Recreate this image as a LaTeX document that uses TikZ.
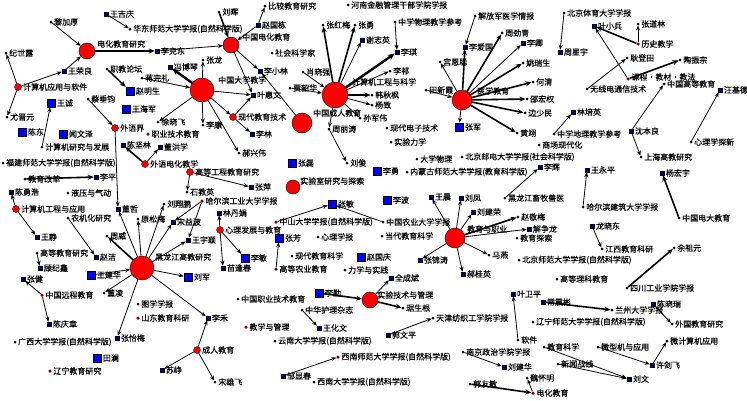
\documentclass[tikz,border=0pt]{standalone}
\usepackage{fontspec}
\setmainfont{Noto Sans CJK SC}[FakeBold=0.3]
\usetikzlibrary{arrows.meta}
\definecolor{navy}{RGB}{0,0,128}
\definecolor{dred}{RGB}{128,0,0}
\pgfdeclarelayer{bg}
\pgfdeclarelayer{paper}
\pgfsetlayers{paper,bg,main}
\tikzset{
 base/.style={inner sep=0pt, outer sep=0pt},
 hub/.style={base, circle, draw=black, line width=0.4pt, fill=red},
 rc/.style={base, circle, draw=black, line width=0.3pt, fill=red, minimum size=7pt},
 dr/.style={base, circle, fill=dred, minimum size=3.5pt},
 dot/.style={base, circle, fill=black, minimum size=3pt},
 sq/.style={base, rectangle, draw=black, line width=0.3pt, fill=navy, minimum size=4.5pt},
 bsq/.style={base, rectangle, draw=black, line width=0.5pt, fill=blue, minimum size=8.5pt},
 lbl/.style={inner sep=0pt, font=\fontsize{8}{9}\selectfont},
 e/.style={draw=black, line width=0.8pt, -{Stealth[length=5pt,width=4pt]}},
 et/.style={e, line width=1.6pt, -{Stealth[length=6pt,width=5pt]}},
 ev/.style={e, line width=2.4pt, -{Stealth[length=7pt,width=6pt]}},
}
\newcommand\mynd[5]{\node[#2,label={[lbl,label distance=1.5pt]0:#5}] (#1) at (#3,#4) {};}
\newcommand\myhub[7]{\node[hub,minimum size=#4pt] (#1) at (#2,#3) {}; \node[lbl,anchor=west] (#1t) at (#5,#6) {#7};}
\begin{document}
\begin{tikzpicture}[x=1pt,y=-1pt]
\begin{pgfonlayer}{paper}
\fill[white] (0,0) rectangle (747,400);
\end{pgfonlayer}
\useasboundingbox (0,0) rectangle (747,400);
% hubs
\myhub{dhjy}{87}{51}{16}{97}{44}{电化教育研究}
\myhub{zgdh}{231}{45}{16}{242}{37}{中国电化教育}
\myhub{zgdx}{202}{90}{24}{218}{80}{中国大学教学}
\myhub{jsjgc}{335}{95}{26}{352}{82}{计算机工程与科学}
\myhub{zgcr}{302}{123}{20}{313}{113}{中国成人教育}
\myhub{yxjy}{462}{100}{20}{477}{91}{医学教育}
\myhub{jyzy}{455}{238}{20}{467}{229}{教育与职业}
\myhub{hlj}{142}{268}{24}{155}{257}{黑龙江高教研究}
\myhub{syjs}{370}{300}{16}{377}{295}{实验技术与管理}
\myhub{sys}{293}{187}{14}{300}{181}{实验室研究与探索}
% top-left
\mynd{wjq}{sq}{106}{14}{王吉庆}
\mynd{hdsf}{dot}{130}{29}{华东师范大学学报(自然科学版)}
\mynd{ljh}{dot}{51}{22}{黎加厚}
\mynd{lkd}{sq}{157}{51}{李克东}
\mynd{jsl}{dot}{6}{53}{纪世露}
\mynd{jsjyy}{rc}{18}{87}{计算机应用与软件}
\mynd{wrl}{sq}{64}{71}{王荣良}
\mynd{yjy}{dot}{7}{117}{尤晋元}
\mynd{zjlt}{dot}{107}{69}{职教论坛}
\mynd{zms}{bsq}{130}{91}{赵明生}
\mynd{jwl}{dot}{142}{78}{蒋完礼}
\mynd{fbq}{sq}{170}{67}{冯博琴}
\mynd{wc}{bsq}{51}{103}{王诚}
\mynd{whj}{bsq}{126}{109}{王海军}
\mynd{ccj}{dot}{88}{99}{蔡垂钧}
\mynd{wyj}{rc}{115}{128}{外语界}
\mynd{xxf}{dot}{158}{122}{徐晓飞}
\mynd{zyjsjy}{dr}{148}{134}{职业技术教育}
\mynd{cd}{bsq}{22}{132}{陈东}
\mynd{wwz}{bsq}{63}{134}{闻文泽}
% top-middle
\mynd{lh}{dot}{219}{12}{刘晖}
\mynd{bjjy}{dot}{265}{6}{比较教育研究}
\mynd{zgd}{sq}{258}{25}{赵国栋}
\mynd{shkxj}{dot}{272}{53}{社会科学家}
\mynd{lxl}{sq}{260}{71}{李小林}
\mynd{zl}{dot}{203}{60}{张龙}
\mynd{yhw}{sq}{253}{95}{叶惠文}
\mynd{xdjyjs}{rc}{233}{117}{现代教育技术}
\mynd{lk}{dot}{203}{125}{李康}
\mynd{ll}{sq}{252}{134}{李林}
\mynd{hxw}{dot}{239}{153}{郝兴伟}
\mynd{xxq}{dot}{303}{72}{肖晓强}
\mynd{jsh}{dot}{290}{88}{贾韶华}
\mynd{zhm}{dot}{323}{25}{张红梅}
\mynd{zy}{dot}{355}{25}{张勇}
\mynd{xzy}{sq}{362}{40}{谢志英}
\mynd{lq}{sq}{397}{52}{李琪}
\mynd{zxwl}{dot}{395}{22}{中学物理教学参考}
\mynd{hnjr}{dot}{348}{5}{河南金融管理干部学院学报}
\mynd{lqi}{dot}{390}{71}{李祁}
\mynd{hqf}{dot}{372}{95}{韩秋枫}
\mynd{yz}{dot}{372}{105}{杨致}
\mynd{sjw}{dot}{360}{118}{孙军伟}
\mynd{zlt}{dot}{329}{129}{周丽涛}
\mynd{lj}{dot}{347}{163}{刘俊}
\mynd{xddz}{dot}{387}{128}{现代电子技术}
% top-right
\mynd{jfj}{dot}{475}{16}{解放军医学情报}
\mynd{lag}{sq}{465}{47}{李爱国}
\mynd{zjq}{dot}{502}{33}{周劲青}
\mynd{lqing}{sq}{523}{43}{李卿}
\mynd{gec}{dot}{440}{62}{宫恩聪}
\mynd{yrs}{dot}{523}{63}{姚瑞生}
\mynd{hq}{dot}{533}{82}{何清}
\mynd{txx}{dot}{426}{90}{田新霞}
\mynd{shq}{dot}{527}{99}{邵宏权}
\mynd{bsm}{dot}{525}{113}{边少民}
\mynd{zj}{bsq}{459}{127}{张军}
\mynd{hy}{dot}{517}{133}{黄翊}
\mynd{bjty}{dot}{564}{13}{北京体育大学学报}
\mynd{zxy}{sq}{560}{52}{周星宇}
\mynd{yxb}{sq}{594}{26}{叶小兵}
\mynd{zdl}{dot}{638}{24}{张道林}
\mynd{lsjx}{dr}{638}{44}{历史教学}
\mynd{gdt}{dot}{627}{58}{耿登田}
\mynd{tzz}{dot}{680}{60}{陶振宗}
\node[dr,label={[lbl,label distance=1.5pt,yshift=2pt]0:课程·教材·教法}] (kcjc) at (628,79) {};
\mynd{wxd}{dot}{587}{89}{无线电通信技术}
\mynd{zggd}{dot}{664}{84}{中国高等教育}
\mynd{wjd}{sq}{720}{90}{汪基德}
\mynd{lpy}{sq}{573}{112}{林培英}
\mynd{zxdl}{dot}{554}{134}{中学地理教学参考}
\mynd{sbl}{sq}{631}{131}{沈本良}
\mynd{shgj}{dot}{641}{157}{上海高教研究}
\mynd{xlxtx}{dot}{691}{142}{心理学探新}
\mynd{yhy}{sq}{662}{173}{杨宏宇}
\mynd{zgdd}{dot}{679}{218}{中国电大教育}
\mynd{wyp}{sq}{587}{170}{王永平}
\mynd{hebjz}{dot}{583}{207}{哈尔滨建筑大学学报}
\mynd{lxd}{sq}{592}{226}{龙晓东}
\mynd{jxjy}{dot}{602}{249}{江西教育科研}
\mynd{yzy}{dot}{674}{248}{余祖元}
\mynd{scgy}{dot}{627}{288}{四川工业学院学报}
\mynd{scxd}{dot}{539}{145}{商场现代化}
% middle
\mynd{sylx}{dot}{391}{142}{实验力学}
\mynd{dxwl}{dot}{417}{159}{大学物理}
\mynd{bjyd}{dot}{462}{157}{北京邮电大学学报(社会科学版)}
\mynd{ly}{bsq}{377}{171}{李勇}
\mynd{nmg}{dot}{407}{172}{内蒙古师范大学学报(教育科学版)}
\mynd{lhui}{sq}{540}{167}{李辉}
\mynd{hljxm}{dot}{505}{198}{黑龙江畜牧兽医}
\mynd{lb}{bsq}{387}{200}{李波}
\mynd{wc2}{sq}{431}{197}{王晨}
\mynd{lf}{sq}{461}{198}{刘凤}
\mynd{ljr}{sq}{473}{212}{刘建荣}
\mynd{zjm}{dot}{518}{217}{赵敬梅}
\mynd{xzl}{sq}{529}{229}{解争龙}
\mynd{jyts}{dot}{517}{238}{教育探索}
\mynd{my}{dot}{489}{255}{马燕}
\mynd{zjt}{sq}{420}{260}{张锦涛}
\mynd{bjsf}{dot}{519}{260}{北京师范大学学报(自然科学版)}
\mynd{hgy}{sq}{463}{274}{郝桂英}
\mynd{zgny}{dot}{383}{222}{中国农业大学学报}
\mynd{ddjy}{dot}{382}{236}{当代教育科学}
\mynd{zgq}{bsq}{361}{257}{赵国庆}
\mynd{gdgc}{rc}{190}{172}{高等工程教育研究}
\mynd{zp}{sq}{251}{187}{张萍}
\mynd{zl2}{bsq}{292}{163}{张磊}
\mynd{sjy}{dot}{187}{192}{石教英}
\mynd{hgd}{dr}{202}{201}{哈尔滨工业大学学报}
\mynd{ldj}{sq}{219}{213}{林丹娟}
\mynd{xlfz}{rc}{220}{230}{心理发展与教育}
\mynd{lm}{bsq}{245}{258}{李敏}
\mynd{zf}{bsq}{279}{238}{张芳}
\mynd{xlxb}{dot}{318}{237}{心理学报}
\mynd{xdjykx}{dot}{292}{256}{现代教育科学}
\mynd{wyy}{sq}{188}{240}{王宇颖}
\mynd{zsdx}{dr}{276}{222}{中山大学学报(自然科学版)}
\mynd{zm}{bsq}{332}{204}{张敏}
% left
\mynd{cjl}{sq}{123}{145}{陈坚林}
\mynd{dhx}{sq}{160}{147}{董洪学}
\mynd{wydh}{rc}{145}{164}{外语电化教学}
\mynd{jsjyf}{dot}{42}{147}{计算机研究与发展}
\mynd{fjsf}{dot}{3}{163}{福建师范大学学报(自然科学版)}
\mynd{jygg}{dot}{25}{179}{教育改革}
\mynd{lp}{sq}{96}{177}{李平}
\mynd{cyh}{sq}{11}{192}{陈勇浩}
\mynd{yyqd}{dot}{68}{193}{液压与气动}
\mynd{jsjgy}{rc}{16}{209}{计算机工程与应用}
\mynd{wj}{sq}{37}{237}{王静}
\mynd{njh}{dot}{68}{218}{农机化研究}
\mynd{zjie}{sq}{96}{257}{赵洁}
\mynd{gdjy}{dot}{37}{253}{高等教育研究}
\mynd{gjx}{sq}{40}{268}{顾纪鑫}
\mynd{zw}{dot}{107}{236}{周威}
\mynd{ysm}{dot}{138}{219}{原松梅}
\mynd{lxp}{dot}{164}{204}{刘翔鹏}
\mynd{syb}{sq}{173}{222}{宋益波}
\mynd{dz}{sq}{118}{209}{董哲}
% bottom-left
\mynd{wjh}{bsq}{91}{275}{王建华}
\mynd{dl}{dot}{104}{293}{董凌}
\mynd{zjian}{sq}{23}{279}{张健}
\mynd{zgyc}{dr}{42}{295}{中国远程教育}
\mynd{tx}{dot}{138}{304}{图学学报}
\mynd{sdjy}{dr}{138}{318}{山东教育科研}
\mynd{cqz}{sq}{49}{324}{陈庆章}
\mynd{zym}{sq}{117}{338}{张怡梅}
\mynd{gxdx}{dot}{15}{342}{广西大学学报(自然科学版)}
\mynd{tl}{bsq}{97}{358}{田澜}
\mynd{lnjy}{dr}{50}{371}{辽宁教育研究}
\mynd{sz}{sq}{162}{370}{苏峥}
\mynd{crjy}{rc}{197}{350}{成人教育}
\mynd{lhe}{sq}{208}{318}{李禾}
\mynd{sxf}{dot}{215}{382}{宋雄飞}
\mynd{ljun}{bsq}{188}{277}{刘军}
\mynd{mfc}{sq}{223}{268}{苗逢春}
\mynd{gdny}{dr}{276}{269}{高等农业教育}
\mynd{zgzy}{dot}{238}{299}{中国职业技术教育}
\mynd{jxgl}{dr}{246}{327}{教学与管理}
\mynd{zhhl}{dot}{302}{310}{中华护理杂志}
\mynd{whw}{sq}{319}{328}{王化文}
\mynd{yndx}{dot}{275}{341}{云南大学学报(自然科学版)}
\mynd{xnsf}{dr}{338}{357}{西南师范大学学报(自然科学版)}
\mynd{zxc}{sq}{283}{376}{邹显春}
\mynd{xndx}{dot}{314}{382}{西南大学学报(自然科学版)}
\mynd{lqin}{bsq}{319}{293}{李勤}
\mynd{lxsj}{dot}{345}{270}{力学与实践}
\mynd{qcb}{sq}{391}{278}{全成斌}
\mynd{jsg}{dot}{403}{308}{琚生根}
\mynd{tjfz}{dot}{433}{318}{天津纺织工学院学报}
\mynd{gwp}{sq}{388}{335}{郭文平}
% bottom-right
\mynd{ywp}{sq}{513}{294}{叶卫平}
\mynd{rj}{dot}{518}{340}{软件}
\mynd{njzz}{dot}{463}{352}{南京政治学院学报}
\mynd{ljh2}{sq}{504}{367}{刘建华}
\mynd{whm}{dot}{527}{378}{魏怀明}
\mynd{gym}{dot}{470}{384}{郭友敏}
\mynd{dhjy2}{dr}{533}{393}{电化教育}
\mynd{glkj}{dot}{557}{279}{高等理科教育}
\mynd{czb}{sq}{543}{302}{常震彬}
\mynd{lzdx}{dot}{612}{310}{兰州大学学报}
\mynd{cxr}{sq}{653}{304}{陈晓瑞}
\mynd{wgjy}{dot}{672}{324}{外国教育研究}
\mynd{lnsf}{dot}{533}{322}{辽宁师范大学学报(自然科学版)}
\mynd{wjsj}{dot}{667}{341}{微计算机应用}
\mynd{xjf}{sq}{652}{365}{许剑飞}
\mynd{wxj}{dot}{598}{347}{微型机与应用}
\mynd{jykx}{dot}{544}{347}{教育科学}
\mynd{lw}{sq}{629}{379}{刘文}
\mynd{xwzx}{dot}{558}{364}{新闻战线}
\begin{pgfonlayer}{bg}
\draw[e] (wjq) -- (hdsf);
\draw[e] (ljh) -- (dhjy);
\draw[et] (dhjy) -- (lkd);
\draw[e] (lkd) -- (zgdh);
\draw[e] (jsjyy) -- (jsl);
\draw[e] (jsjyy) -- (yjy);
\draw[e] (jsjyy) -- (wrl);
\draw[e] (wrl) -- (dhjy);
\draw[et] (zjlt) -- (zms);
\draw[e] (jwl) -- (zgdx);
\draw[ev] (zgdx) -- (fbq);
\draw[e] (jsjyf) -- (wc);
\draw[e] (ccj) -- (wyj);
\draw[e] (zgdx) -- (xxf);
\draw[et] (lh) -- (zgdh);
\draw[e] (zgd) -- (bjjy);
\draw[e] (zgd) -- (zgdh);
\draw[e] (zgdh) -- (lxl);
\draw[e] (zgcr) -- (lxl);
\draw[e] (zgdh) -- (yhw);
\draw[e] (zgdx) -- (zl);
\draw[e] (zgdx) -- (yhw);
\draw[e] (xdjyjs) -- (yhw);
\draw[e] (zgdx) -- (xdjyjs);
\draw[e] (xdjyjs) -- (ll);
\draw[e] (zgdx) -- (lk);
\draw[e] (zgdx) -- (hxw);
\draw[e] (xxq) -- (jsjgc);
\draw[e] (jsh) -- (jsjgc);
\draw[et] (jsjgc) -- (zhm);
\draw[et] (jsjgc) -- (zy);
\draw[e] (jsjgc) -- (xzy);
\draw[ev] (jsjgc) -- (lq);
\draw[e] (jsjgc) -- (lqi);
\draw[et] (jsjgc) -- (hqf);
\draw[e] (jsjgc) -- (yz);
\draw[e] (jsjgc) -- (sjw);
\draw[e] (jsjgc) -- (zlt);
\draw[e] (zlt) -- (lj);
\draw[e] (zxwl) -- (lq);
\draw[e] (jfj) -- (lag);
\draw[et] (yxjy) -- (lag);
\draw[et] (yxjy) -- (zjq);
\draw[e] (yxjy) -- (lqing);
\draw[e] (yxjy) -- (gec);
\draw[et] (yxjy) -- (yrs);
\draw[et] (yxjy) -- (hq);
\draw[e] (txx) -- (yxjy);
\draw[et] (yxjy) -- (shq);
\draw[et] (yxjy) -- (bsm);
\draw[e] (yxjy) -- (zj);
\draw[et] (yxjy) -- (hy);
\draw[e] (bjty) -- (zxy);
\draw[e] (lsjx) -- (zdl);
\draw[et] (lsjx) -- (yxb);
\draw[e] (kcjc) -- (yxb);
\draw[et] (kcjc) -- (tzz);
\draw[e] (wxd) -- (gdt);
\draw[e] (sbl) -- (zggd);
\draw[e] (xlxtx) -- (wjd);
\draw[e] (zxdl) -- (lpy);
\draw[e] (sbl) -- (shgj);
\draw[et] (zgdd) -- (yhy);
\draw[e] (hebjz) -- (wyp);
\draw[e] (lxd) -- (jxjy);
\draw[et] (scgy) -- (yzy);
\draw[e] (hljxm) -- (lhui);
\draw[e] (jyzy) -- (wc2);
\draw[e] (jyzy) -- (lf);
\draw[e] (jyzy) -- (ljr);
\draw[et] (jyzy) -- (zjm);
\draw[e] (jyzy) -- (xzl);
\draw[e] (jyzy) -- (my);
\draw[e] (jyzy) -- (zjt);
\draw[e] (jyzy) -- (hgy);
\draw[e] (zsdx) -- (zm);
\draw[e] (zgny) -- (zm);
\draw[e] (gdgc) -- (zp);
\draw[e] (gdgc) -- (sjy);
\draw[e] (hgd) -- (syb);
\draw[e] (hgd) -- (wyy);
\draw[e] (xlfz) -- (ldj);
\draw[e] (xlfz) -- (lm);
\draw[e] (xlfz) -- (mfc);
\draw[e] (gdny) -- (zf);
\draw[et] (wydh) -- (cjl);
\draw[e] (wydh) -- (dhx);
\draw[et] (jygg) -- (lp);
\draw[e] (jsjgy) -- (cyh);
\draw[e] (jsjgy) -- (wj);
\draw[e] (njh) -- (zjie);
\draw[e] (gdjy) -- (gjx);
\draw[et] (hlj) -- (zw);
\draw[e] (hlj) -- (ysm);
\draw[e] (hlj) -- (lxp);
\draw[e] (hlj) -- (syb);
\draw[e] (hlj) -- (wyy);
\draw[e] (hlj) -- (dz);
\draw[e] (wjh) -- (hlj);
\draw[e] (hlj) -- (dl);
\draw[e] (hlj) -- (zym);
\draw[e] (hlj) -- (lhe);
\draw[e] (hlj) -- (ljun);
\draw[e] (wyj) -- (dz);
\draw[e] (zgyc) -- (zjian);
\draw[e] (zgyc) -- (cqz);
\draw[e] (crjy) -- (sz);
\draw[e] (crjy) -- (lhe);
\draw[e] (crjy) -- (sxf);
\draw[e] (zhhl) -- (whw);
\draw[e] (zxc) -- (xnsf);
\draw[et] (lqin) -- (syjs);
\draw[e] (syjs) -- (qcb);
\draw[et] (syjs) -- (jsg);
\draw[e] (gwp) -- (tjfz);
\draw[e] (rj) -- (ywp);
\draw[e] (njzz) -- (ljh2);
\draw[e] (dhjy2) -- (whm);
\draw[et] (gym) -- (dhjy2);
\draw[et] (czb) -- (lzdx);
\draw[e] (cxr) -- (wgjy);
\draw[e] (xjf) -- (wjsj);
\draw[e] (wxj) -- (xjf);
\draw[e] (jykx) -- (lw);
\draw[e] (xwzx) -- (lw);
\end{pgfonlayer}
\end{tikzpicture}
\end{document}
